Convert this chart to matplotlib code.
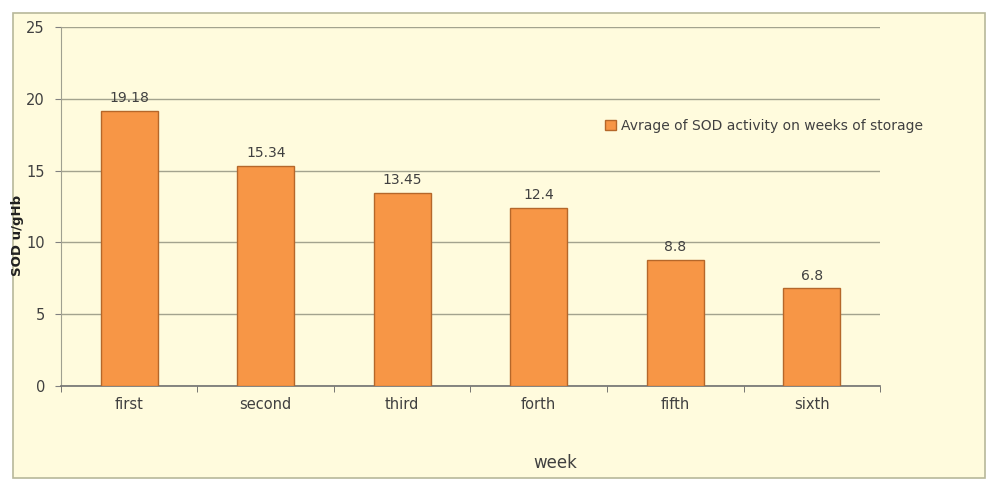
import matplotlib
matplotlib.use("Agg")
import matplotlib.pyplot as plt
from matplotlib.patches import Rectangle

categories = ["first", "second", "third", "forth", "fifth", "sixth"]
values = [19.18, 15.34, 13.45, 12.4, 8.8, 6.8]
value_labels = ["19.18", "15.34", "13.45", "12.4", "8.8", "6.8"]
yticks = [0, 5, 10, 15, 20, 25]
series_name = "Avrage of SOD activity on weeks of storage"

plt.rcParams['font.family'] = ['DejaVu Sans']
bg = "#FFFBDD"
bar_color = "#F79646"
edge_color = "#B5672A"
grid_color = "#A3A38E"
text_color = "#404040"

fig = plt.figure(figsize=(9.88, 4.84), dpi=100)
fig.patch.set_facecolor("white")
fig.add_artist(Rectangle((0.013, 0.0124), 0.984, 0.9606, transform=fig.transFigure,
                         facecolor=bg, edgecolor="#B8B89A", linewidth=1.2, zorder=0))

ax = fig.add_axes([0.0617, 0.2025, 0.829, 0.7417])
ax.set_facecolor(bg)
x = list(range(len(categories)))
bars = ax.bar(x, values, width=0.42, color=bar_color, edgecolor=edge_color,
              linewidth=1.0, zorder=3, label=series_name)
for xi, v, lab in zip(x, values, value_labels):
    ax.annotate(lab, (xi, v), xytext=(0, 4), textcoords="offset points",
                ha="center", va="bottom", fontsize=10, color=text_color)

ax.set_xlim(-0.5, len(categories) - 0.5)
ax.set_ylim(0, 25)
ax.set_yticks(yticks)
ax.set_yticklabels([str(t) for t in yticks], fontsize=10.5, color=text_color)
ax.yaxis.grid(True, color=grid_color, linewidth=1.0, zorder=0)
ax.set_axisbelow(True)
ax.set_xticks(x)
ax.set_xticklabels(categories, fontsize=10.5, color=text_color)
ax.tick_params(axis="x", length=0, pad=8)
ax.set_xticks([i + 0.5 for i in range(len(categories) - 1)] + [-0.5, len(categories) - 0.5], minor=True)
ax.tick_params(axis="x", which="minor", length=4, color="#606060")
ax.tick_params(axis="y", length=4, color="#808080", pad=7.5)

for s in ["top", "right"]:
    ax.spines[s].set_visible(False)
ax.spines["left"].set_color("#A0A090")
ax.spines["bottom"].set_color("#707070")
ax.spines["bottom"].set_linewidth(1.2)

ax.set_xlabel("week", fontsize=12, color=text_color)
ax.xaxis.set_label_coords(0.603, -0.19)
ax.set_ylabel("SOD u/gHb", fontsize=9.5, color="#202020", fontweight="bold")
ax.yaxis.set_label_coords(-0.045, 0.42)

leg = fig.legend(handles=[bars], labels=[series_name], loc="center left",
                 bbox_to_anchor=(0.6, 0.74), frameon=False, fontsize=10,
                 handlelength=0.8, handleheight=0.7, handletextpad=0.3)
for t in leg.get_texts():
    t.set_color(text_color)

fig.savefig("out.png", dpi=100, facecolor=fig.get_facecolor())
